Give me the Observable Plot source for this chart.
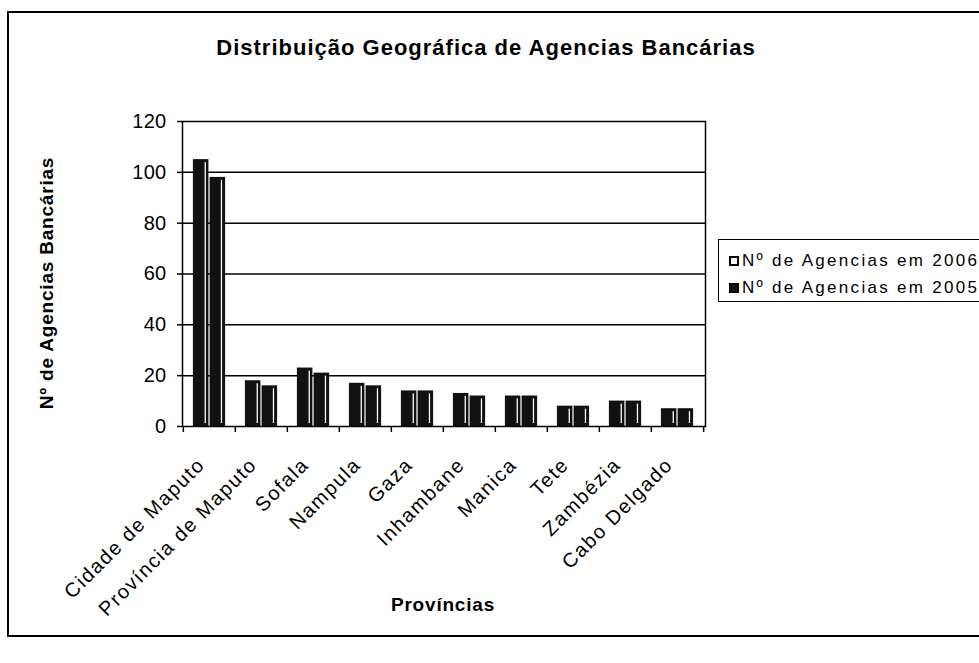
<!DOCTYPE html>
<html><head><meta charset="utf-8">
<script src="https://cdn.jsdelivr.net/npm/d3@7"></script>
<script src="https://cdn.jsdelivr.net/npm/@observablehq/plot@0.6"></script>
<style>
body{margin:0;background:#fff;font-family:"Liberation Sans",Arial,sans-serif;color:#000;}
#wrap{position:relative;width:979px;height:663px;overflow:hidden;background:#fff;}
#border{position:absolute;left:7px;top:11px;width:1100px;height:626px;border:2px solid #000;box-sizing:border-box;}
#chart{position:absolute;left:0;top:0;}
#chart svg text{letter-spacing:1.6px;}
#chart svg g[aria-label="y-axis tick label"] text{letter-spacing:0.3px;}
.title{position:absolute;font-weight:bold;white-space:nowrap;text-align:center;}
#t1{left:0;width:972px;top:36px;font-size:22px;line-height:24px;letter-spacing:1px;}
#t2{left:-153px;width:400px;top:273px;font-size:19px;line-height:20px;letter-spacing:0.8px;transform:rotate(-90deg);}
#t3{left:243px;width:400px;top:595px;font-size:19px;line-height:20px;letter-spacing:0.8px;}
#legend{position:absolute;left:718px;top:239px;width:400px;height:63px;border:1.5px solid #000;box-sizing:border-box;background:#fff;}
.row{position:absolute;left:10px;font-size:17px;line-height:20px;letter-spacing:2.3px;white-space:nowrap;}
.sw{display:inline-block;width:10px;height:10px;box-sizing:border-box;border:2px solid #000;margin-right:3px;vertical-align:0px;}
</style></head>
<body>
<div id="wrap">
  <div id="border"></div>
  <div id="chart"></div>
  <div class="title" id="t1"></div>
  <div class="title" id="t2"></div>
  <div class="title" id="t3"></div>
  <div id="legend"></div>
</div>
<script>
const titulo = "Distribuição Geográfica de Agencias Bancárias";
const tituloY = "Nº de Agencias Bancárias";
const tituloX = "Províncias";
const provincias = ["Cidade de Maputo","Província de Maputo","Sofala","Nampula","Gaza","Inhambane","Manica","Tete","Zambézia","Cabo Delgado"];
const agencias2006 = [105,18,23,17,14,13,12,8,10,7];
const agencias2005 = [98,16,21,16,14,12,12,8,10,7];
const series = ["Nº de Agencias em 2006","Nº de Agencias em 2005"];
const yTicks = [0,20,40,60,80,100,120];

const W = 979, H = 663, ML = 182, MR = 274, MT = 121, MB = 237;
const step = (W - ML - MR) / provincias.length;
const padIn = 0.69;
const bw = step * (1 - padIn);

const d2006 = provincias.map((p, i) => ({provincia: p, valor: agencias2006[i]}));
const d2005 = provincias.map((p, i) => ({provincia: p, valor: agencias2005[i]}));

const chart = Plot.plot({
  width: W, height: H,
  marginLeft: ML, marginRight: MR, marginTop: MT, marginBottom: MB,
  style: {fontFamily: '"Liberation Sans", Arial, sans-serif', color: "#000", background: "transparent"},
  x: {type: "band", domain: provincias, paddingInner: padIn, paddingOuter: padIn / 2, axis: null},
  y: {domain: [0, 120], axis: null},
  marks: [
    Plot.gridY(yTicks.slice(1, -1), {stroke: "#000", strokeOpacity: 1, strokeWidth: 1.5}),
    Plot.barY(d2006, {x: "provincia", y: "valor", fill: "#111", dx: -bw / 2, insetRight: 0.5}),
    Plot.barY(d2005, {x: "provincia", y: "valor", fill: "#111", dx: bw / 2, insetLeft: 0.5}),
    Plot.barY(d2006, {x: "provincia", y: "valor", fill: "#fff", dx: -bw / 2, insetLeft: bw - 4.5, insetRight: 3, insetTop: 3, insetBottom: 3}),
    Plot.barY(d2005, {x: "provincia", y: "valor", fill: "#fff", dx: bw / 2, insetLeft: bw - 4.5, insetRight: 3, insetTop: 3, insetBottom: 3}),
    Plot.frame({stroke: "#000", strokeWidth: 1.5}),
    Plot.axisY(yTicks, {tickSize: 5, tickPadding: 11, fontSize: 20, label: null, strokeWidth: 1.5}),
    Plot.axisX({tickSize: 6, tickFormat: () => "", dx: -step / 2, label: null, strokeWidth: 1.5}),
    Plot.axisX([provincias[provincias.length - 1]], {tickSize: 6, tickFormat: () => "", dx: step / 2, label: null, strokeWidth: 1.5}),
    Plot.text(provincias, {x: d => d, text: d => d, frameAnchor: "bottom", rotate: -45, textAnchor: "end", lineAnchor: "middle", dx: -8, dy: 35, fontSize: 20, fill: "#000"})
  ]
});
document.getElementById("chart").appendChild(chart);

document.getElementById("t1").textContent = titulo;
document.getElementById("t2").textContent = tituloY;
document.getElementById("t3").textContent = tituloX;

const legend = document.getElementById("legend");
series.forEach((s, i) => {
  const row = document.createElement("div");
  row.className = "row";
  row.style.top = (i === 0 ? 11 : 38) + "px";
  const sw = document.createElement("span");
  sw.className = "sw";
  sw.style.background = i === 0 ? "#fff" : "#111";
  row.appendChild(sw);
  row.appendChild(document.createTextNode(s));
  legend.appendChild(row);
});
</script>
</body></html>
